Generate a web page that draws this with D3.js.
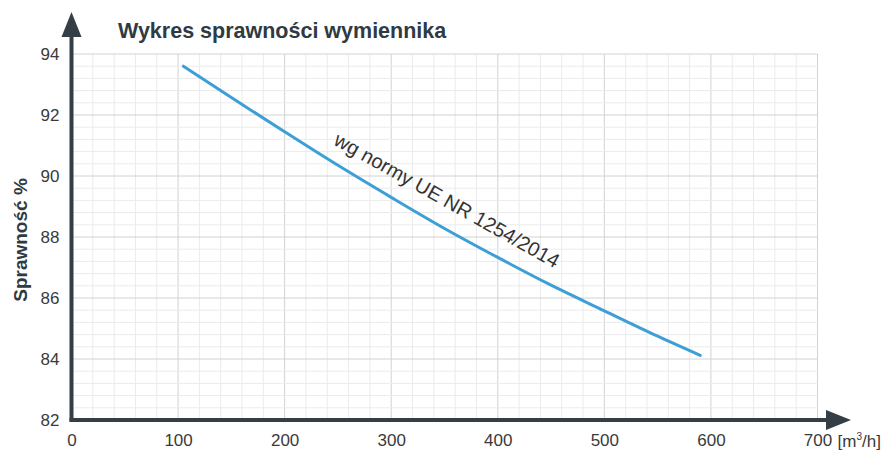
<!DOCTYPE html>
<html>
<head>
<meta charset="utf-8">
<script src="https://cdn.jsdelivr.net/npm/d3@7"></script>
<style>
  body { margin: 0; background: #fff; }
  svg text { font-family: "Liberation Sans", Arial, sans-serif; }
</style>
</head>
<body>
<div id="chart"></div>
<script>
// flow rate [m3/h] and efficiency [%]
const flow = [105, 150, 200, 250, 300, 350, 400, 450, 500, 550, 590];
const efficiency = [93.6, 92.57, 91.45, 90.35, 89.3, 88.28, 87.33, 86.42, 85.58, 84.75, 84.12];

const xTicks = [0, 100, 200, 300, 400, 500, 600, 700];
const yTicks = [82, 84, 86, 88, 90, 92, 94];

const W = 884, H = 450;
const AXIS = '#343e46';

const svg = d3.select('#chart').append('svg')
  .attr('width', W).attr('height', H);

const x = d3.scaleLinear().domain([0, 700]).range([71.5, 817.5]);
const y = d3.scaleLinear().domain([82, 94]).range([420, 54]);

// minor grid (every 20 m3/h and 0.4 %)
const g = svg.append('g');
g.selectAll('.vmin').data(d3.range(0, 701, 20))
  .join('line')
  .attr('x1', d => x(d)).attr('x2', d => x(d))
  .attr('y1', y(94)).attr('y2', y(82))
  .attr('stroke', d => d % 100 === 0 ? '#d2d2d2' : '#ebebeb')
  .attr('stroke-width', 1);

g.selectAll('.hmin').data(d3.range(0, 31).map(i => 82 + i * 0.4))
  .join('line')
  .attr('x1', x(0)).attr('x2', x(700))
  .attr('y1', d => y(d)).attr('y2', d => y(d))
  .attr('stroke', (d, i) => i % 5 === 0 ? '#d2d2d2' : '#ebebeb')
  .attr('stroke-width', 1);

// tick labels through d3 axes, domain lines hidden
const xAxis = svg.append('g')
  .attr('transform', `translate(0, ${y(82)})`)
  .call(d3.axisBottom(x).tickValues(xTicks).tickSize(0).tickPadding(14));
const yAxis = svg.append('g')
  .attr('transform', `translate(${x(0)}, 0)`)
  .call(d3.axisLeft(y).tickValues(yTicks).tickSize(0).tickPadding(12));

[xAxis, yAxis].forEach(a => {
  a.select('.domain').remove();
  a.selectAll('text')
    .attr('fill', '#3a3a3a')
    .style('font-size', '17px')
    .style('font-family', '"Liberation Sans", Arial, sans-serif');
});

// unit after the last x label
const unit = svg.append('text')
  .attr('x', x(700) + 20).attr('y', 447)
  .attr('fill', '#3a3a3a')
  .style('font-size', '17px');
unit.append('tspan').text('[m');
unit.append('tspan').text('3').attr('dy', -7).style('font-size', '10px');
unit.append('tspan').text('/h]').attr('dy', 7);

// the curve
const line = d3.line()
  .x((d, i) => x(flow[i]))
  .y(d => y(d))
  .curve(d3.curveMonotoneX);

svg.append('path')
  .datum(efficiency)
  .attr('d', line)
  .attr('fill', 'none')
  .attr('stroke', '#3d9fd7')
  .attr('stroke-width', 3)
  .attr('stroke-linecap', 'round');

// axes with arrow heads
svg.append('line')
  .attr('x1', x(0)).attr('x2', x(0))
  .attr('y1', y(82) + 1.5).attr('y2', 34)
  .attr('stroke', AXIS).attr('stroke-width', 4);
svg.append('path')
  .attr('d', `M${x(0)},12 L${x(0) + 10},37 L${x(0) - 10},37 Z`)
  .attr('fill', AXIS);

svg.append('line')
  .attr('x1', x(0) - 2).attr('x2', 830)
  .attr('y1', y(82)).attr('y2', y(82))
  .attr('stroke', AXIS).attr('stroke-width', 4);
svg.append('path')
  .attr('d', `M851,${y(82)} L826,${y(82) - 10} L826,${y(82) + 10} Z`)
  .attr('fill', AXIS);

// title
svg.append('text')
  .attr('x', 118).attr('y', 38)
  .attr('fill', '#2f3a42')
  .style('font-size', '21.5px')
  .style('font-weight', 'bold')
  .text('Wykres sprawności wymiennika');

// y label
svg.append('text')
  .attr('transform', `translate(27, 240) rotate(-90)`)
  .attr('text-anchor', 'middle')
  .attr('fill', '#2f3a42')
  .style('font-size', '19px')
  .style('font-weight', 'bold')
  .text('Sprawność %');

// annotation along the curve
svg.append('text')
  .attr('transform', `translate(${x(245)}, ${y(91.05)}) rotate(29.3)`)
  .attr('fill', '#333')
  .style('font-size', '20px')
  .text('wg normy UE NR 1254/2014');
</script>
</body>
</html>
